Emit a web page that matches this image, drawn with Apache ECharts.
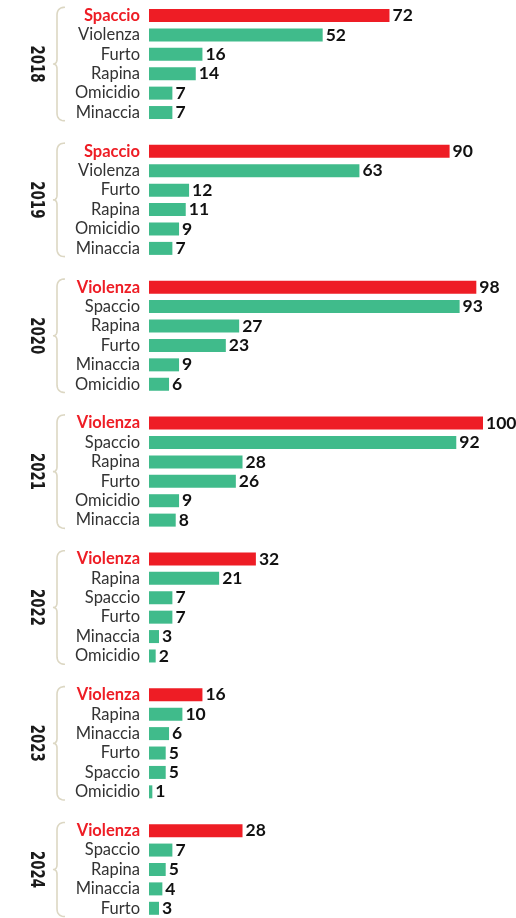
<!DOCTYPE html>
<html><head><meta charset="utf-8">
<script src="https://cdn.jsdelivr.net/npm/echarts@6/dist/echarts.min.js"></script>
<style>html,body{margin:0;padding:0;background:#fff}#c{width:516px;height:918px}</style>
</head><body><div id="c"></div>
<script>
const years = ['2018','2019','2020','2021','2022','2023','2024'];
const cat2018 = ['Spaccio','Violenza','Furto','Rapina','Omicidio','Minaccia'];
const val2018 = [72,52,16,14,7,7];
const cat2019 = ['Spaccio','Violenza','Furto','Rapina','Omicidio','Minaccia'];
const val2019 = [90,63,12,11,9,7];
const cat2020 = ['Violenza','Spaccio','Rapina','Furto','Minaccia','Omicidio'];
const val2020 = [98,93,27,23,9,6];
const cat2021 = ['Violenza','Spaccio','Rapina','Furto','Omicidio','Minaccia'];
const val2021 = [100,92,28,26,9,8];
const cat2022 = ['Violenza','Rapina','Spaccio','Furto','Minaccia','Omicidio'];
const val2022 = [32,21,7,7,3,2];
const cat2023 = ['Violenza','Rapina','Minaccia','Furto','Spaccio','Omicidio'];
const val2023 = [16,10,6,5,5,1];
const cat2024 = ['Violenza','Spaccio','Rapina','Minaccia','Furto'];
const val2024 = [28,7,5,4,3];

const groupCats = [cat2018,cat2019,cat2020,cat2021,cat2022,cat2023,cat2024];
const groupVals = [val2018,val2019,val2020,val2021,val2022,val2023,val2024];

const RED = '#ee1d25', GREEN = '#40bb8b';
const keys = [], labels = [], data = [], groupRange = [];
groupCats.forEach((cats, g) => {
  const start = keys.length;
  cats.forEach((c, i) => {
    keys.push(years[g] + '|' + c);
    labels.push({text: c, top: i === 0});
    data.push({value: groupVals[g][i], itemStyle: {color: i === 0 ? RED : GREEN}});
  });
  groupRange.push([start, keys.length - 1]);
  if (g < groupCats.length - 1) {
    keys.push('gap' + g);
    labels.push({text: '', top: false});
    data.push('-');
  }
});

const slot = 19.43;
const chart = echarts.init(document.getElementById('c'), null, {renderer: 'canvas'});
chart.setOption({
  animation: false,
  grid: {left: 149, width: 334, top: 15.5 - slot / 2, height: slot * keys.length},
  xAxis: {type: 'value', min: 0, max: 100, show: false},
  yAxis: {
    type: 'category', data: keys, inverse: true,
    axisLine: {show: false}, axisTick: {show: false}, splitLine: {show: false},
    axisLabel: {
      interval: 0, margin: 9, fontFamily: 'Lato', fontSize: 16.5, color: '#333',
      formatter: function (v, i) {
        const l = labels[i];
        if (!l || !l.text) return '';
        return l.top ? '{r|' + l.text + '}' : l.text;
      },
      rich: {r: {color: RED, fontWeight: 'bold', fontFamily: 'Lato', fontSize: 16.5}}
    }
  },
  series: [{
    type: 'bar', data: data, barWidth: 13,
    label: {show: true, position: 'right', distance: 3, formatter: '{c}',
      fontFamily: 'Lato', fontWeight: 'bold', fontSize: 17.5, color: '#111'}
  }]
});

function quad(p0, p1, p2, out) {
  for (let t = 0.1; t <= 1.0001; t += 0.1) {
    const a = (1 - t) * (1 - t), b = 2 * (1 - t) * t, c = t * t;
    out.push([a * p0[0] + b * p1[0] + c * p2[0], a * p0[1] + b * p1[1] + c * p2[1]]);
  }
}
const graphics = [];
groupRange.forEach((r, g) => {
  const y0 = chart.convertToPixel({yAxisIndex: 0}, keys[r[0]]) - slot / 2 + 1.5;
  const y1 = chart.convertToPixel({yAxisIndex: 0}, keys[r[1]]) + slot / 2 - 1.5;
  const m = (y0 + y1) / 2;
  const xr = 65, xs = 57, xt = 53;
  const pts = [[xr, y0]];
  quad([xr, y0], [xs, y0], [xs, y0 + 8], pts);
  pts.push([xs, m - 5]);
  quad([xs, m - 5], [xs, m], [xt, m], pts);
  quad([xt, m], [xs, m], [xs, m + 5], pts);
  pts.push([xs, y1 - 8]);
  quad([xs, y1 - 8], [xs, y1], [xr, y1], pts);
  graphics.push({type: 'polyline', shape: {points: pts}, style: {fill: null, stroke: '#dcd7c3', lineWidth: 1.6}});
  graphics.push({type: 'text', x: 36.5, y: m, rotation: -Math.PI / 2, scaleX: 0.74,
    style: {text: years[g], fontFamily: '"DejaVu Sans Condensed", sans-serif',
      fontWeight: 'bold', fontSize: 20, fill: '#1a1a1a', align: 'center', verticalAlign: 'middle'}});
});
chart.setOption({graphic: graphics});
</script></body></html>
